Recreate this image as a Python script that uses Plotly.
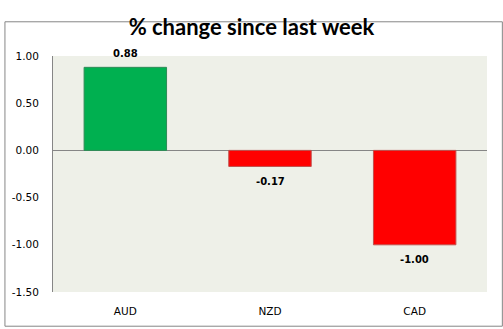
import plotly.graph_objects as go

categories = ["AUD", "NZD", "CAD"]
values = [0.88, -0.17, -1.00]
labels = ["0.88", "-0.17", "-1.00"]
bar_colors = ["#00B050", "#FF0000", "#FF0000"]
line_colors = ["#2E8B57", "#C0504D", "#C0504D"]
y_ticks = [1.0, 0.5, 0.0, -0.5, -1.0, -1.5]
y_tick_text = ["1.00", "0.50", "0.00", "-0.50", "-1.00", "-1.50"]

W, H = 503, 329
L, R, T, B = 49, 16, 56, 35
pw, ph = W - L - R, H - T - B
FONT = "DejaVu Sans, Verdana, sans-serif"

fig = go.Figure()
fig.add_trace(go.Bar(
    x=categories, y=values,
    marker=dict(color=bar_colors, line=dict(color=line_colors, width=1)),
    hoverinfo="x+y",
))

annotations = []
for c, v, t in zip(categories, values, labels):
    annotations.append(dict(
        x=c, y=v, xref="x", yref="y", text="<b>" + t + "</b>", showarrow=False,
        yanchor="middle", xanchor="center", yshift=14 if v >= 0 else -15,
        font=dict(family=FONT, size=10, color="#000000"),
    ))

fig.update_layout(
    width=W, height=H,
    margin=dict(l=L, r=R, t=T, b=B),
    paper_bgcolor="#FFFFFF",
    plot_bgcolor="#EEF0E8",
    showlegend=False,
    bargap=0.43,
    title=dict(text="% change since last week", x=0.5, xanchor="center",
               y=1 - 27 / H, yanchor="middle",
               font=dict(family="Lato, Open Sans, sans-serif", size=22, color="#000000", weight="bold")),
    font=dict(family=FONT, size=10.5, color="#000000"),
    xaxis=dict(showgrid=False, zeroline=False, showline=False, ticks="",
               tickfont=dict(family=FONT, size=10.5), ticklabelstandoff=11),
    yaxis=dict(range=[-1.5, 1.0], tickvals=y_ticks, ticktext=y_tick_text,
               showgrid=False, zeroline=True, zerolinecolor="#868686", zerolinewidth=1,
               showline=True, linecolor="#868686", linewidth=1, ticks="",
               tickfont=dict(family=FONT, size=10.5), ticklabelstandoff=11),
    annotations=annotations,
    shapes=[dict(type="rect", xref="paper", yref="paper",
                 x0=-(L - 0.5) / pw, x1=(W - L - 0.5) / pw,
                 y0=-(B - 0.5) / ph, y1=(H - T - 0.5) / ph,
                 line=dict(color="#868686", width=1), fillcolor="rgba(0,0,0,0)", layer="below")],
)

fig.write_html("out.html")
